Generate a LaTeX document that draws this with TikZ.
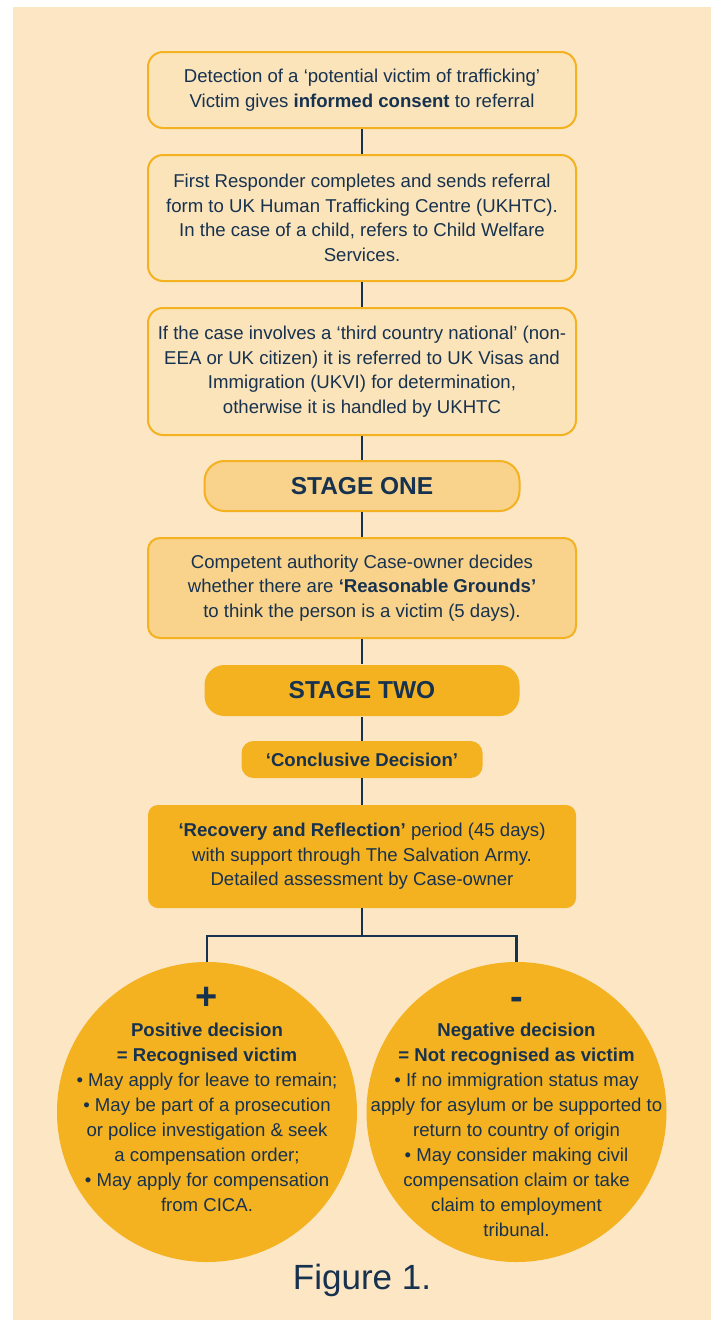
\documentclass[tikz,border=0pt]{standalone}
\usepackage{fontspec}
\setmainfont{Liberation Sans}
\definecolor{bg}{HTML}{FCE6C4}
\definecolor{boxfill}{HTML}{FBE3BA}
\definecolor{orng}{HTML}{F4B120}
\definecolor{lightorng}{HTML}{F9D38C}
\definecolor{navy}{HTML}{17324F}
\begin{document}
\begin{tikzpicture}[x=1pt,y=-1pt,
  txt/.style={text=navy,align=center,inner sep=0pt,font=\fontsize{18.6}{24.5}\selectfont},
  flowbox/.style={txt,draw=orng,line width=2pt,fill=boxfill,rounded corners=15pt,minimum width=428pt},
  stagebox/.style={txt,draw=orng,line width=2pt,fill=lightorng,rounded corners=20pt,minimum width=315pt,minimum height=50pt,font=\fontsize{24.5}{28}\selectfont\bfseries},
  solidbox/.style={txt,fill=orng,rounded corners=12pt},
  conn/.style={draw=navy,line width=2.5pt},
  disc/.style={circle,fill=orng,minimum size=300pt,inner sep=0pt},
  sign/.style={txt,anchor=base,font=\fontsize{38}{38}\selectfont\bfseries},
  circtxt/.style={txt,font=\fontsize{18.6}{25}\selectfont,anchor=north}]
\useasboundingbox (0,0) rectangle (715,1320);
\fill[bg] (13,7) rectangle (711,1320);

\node[flowbox,minimum height=76pt] (b1) at (362,90)
  {Detection of a ‘potential victim of trafficking’\\Victim gives \textbf{informed consent} to referral};
\node[flowbox,minimum height=126pt] (b2) at (362,218)
  {First Responder completes and sends referral\\form to UK Human Trafficking Centre (UKHTC).\\In the case of a child, refers to Child Welfare\\Services.};
\node[flowbox,minimum height=127pt] (b3) at (362,371.5)
  {If the case involves a ‘third country national’ (non-\\EEA or UK citizen) it is referred to UK Visas and\\Immigration (UKVI) for determination,\\otherwise it is handled by UKHTC};
\node[stagebox] (s1) at (362,486) {STAGE ONE};
\node[flowbox,fill=lightorng,rounded corners=12pt,minimum height=100pt] (b4) at (362,588)
  {Competent authority Case-owner decides\\whether there are \textbf{‘Reasonable Grounds’}\\to think the person is a victim (5 days).};
\node[stagebox,draw=none,fill=orng,minimum height=51pt] (s2) at (362,690.5) {STAGE TWO};
\node[solidbox,minimum width=241pt,minimum height=37pt,font=\fontsize{18.6}{22}\selectfont\bfseries] (cd) at (362,759.5) {‘Conclusive Decision’};
\node[solidbox,rounded corners=10pt,minimum width=428pt,minimum height=103pt] (b5) at (362,856.5)
  {\textbf{‘Recovery and Reflection’} period (45 days)\\with support through The Salvation Army.\\Detailed assessment by Case-owner};

\coordinate (j) at (362,936);
\node[disc] (c1) at (207,1112) {};
\node[disc] (c2) at (516.5,1112) {};

\node[sign] (p1) at (207,1009) {+};
\node[sign] (p2) at (516.5,1009) {-};

\node[circtxt] (t1) at (207,1023)
  {\textbf{Positive decision}\\
   \textbf{= Recognised victim}\\
   • May apply for leave to remain;\\
   • May be part of a prosecution\\
   or police investigation \& seek\\
   a compensation order;\\
   • May apply for compensation\\
   from CICA.};
\node[circtxt] (t2) at (516.5,1023)
  {\textbf{Negative decision}\\
   \textbf{= Not recognised as victim}\\
   • If no immigration status may\\
   apply for asylum or be supported to\\
   return to country of origin\\
   • May consider making civil\\
   compensation claim or take\\
   claim to employment\\
   tribunal.};

\node[txt,font=\fontsize{35}{38}\selectfont] (fig) at (362,1280) {Figure 1.};

\draw[conn] (b1.south) -- (b2.north);
\draw[conn] (b2.south) -- (b3.north);
\draw[conn] (b3.south) -- (s1.north);
\draw[conn] (s1.south) -- (b4.north);
\draw[conn] (b4.south) -- (s2.north);
\draw[conn] (s2.south) -- (cd.north);
\draw[conn] (cd.south) -- (b5.north);
\draw[conn] (b5.south) -- (j);
\draw[conn] (j) -| (c1.north);
\draw[conn] (j) -| (c2.north);
\end{tikzpicture}
\end{document}
